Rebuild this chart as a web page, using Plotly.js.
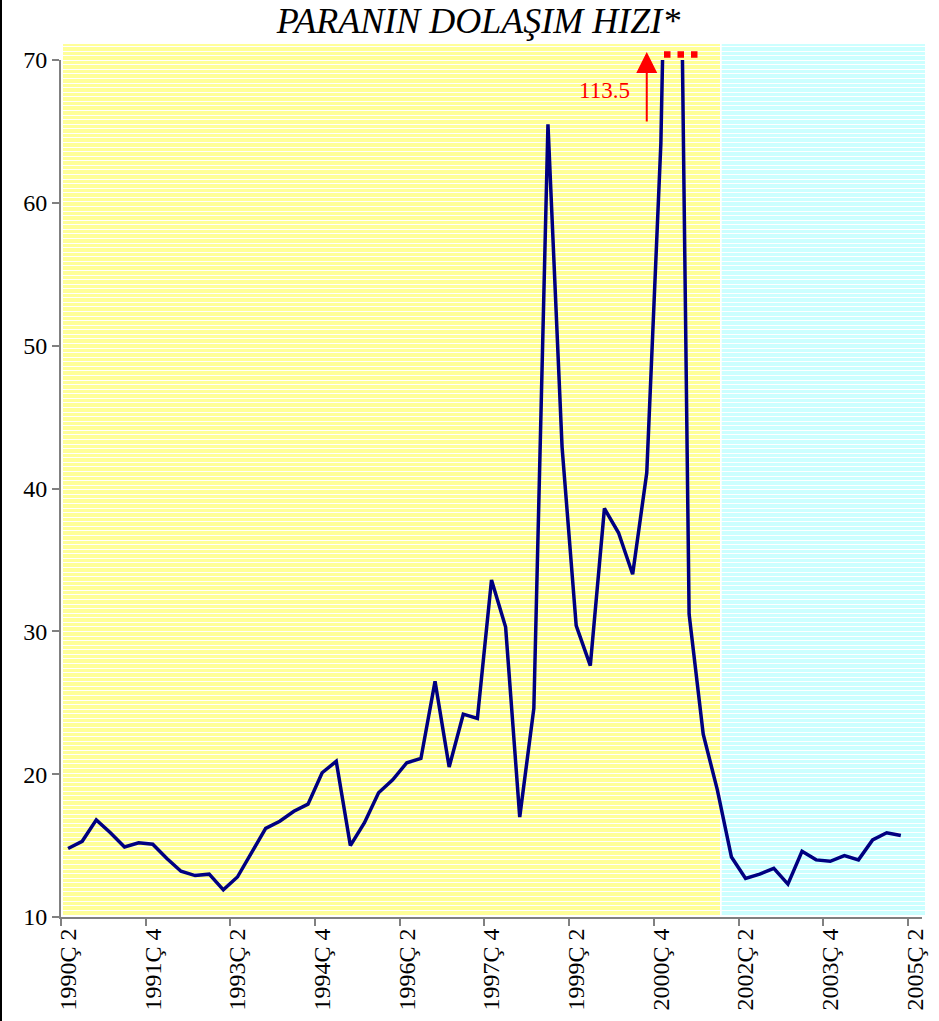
<!DOCTYPE html>
<html>
<head>
<meta charset="utf-8">
<script src="https://cdn.plot.ly/plotly-3.0.1.min.js"></script>
<style>
html,body{margin:0;padding:0;background:#fff;}
#chart{width:939px;height:1021px;}
</style>
</head>
<body>
<div id="chart"></div>
<script>
// ---- data ----
const quarters = [
  "1990Ç 2","1990Ç 3","1990Ç 4",
  "1991Ç 1","1991Ç 2","1991Ç 3","1991Ç 4",
  "1992Ç 1","1992Ç 2","1992Ç 3","1992Ç 4",
  "1993Ç 1","1993Ç 2","1993Ç 3","1993Ç 4",
  "1994Ç 1","1994Ç 2","1994Ç 3","1994Ç 4",
  "1995Ç 1","1995Ç 2","1995Ç 3","1995Ç 4",
  "1996Ç 1","1996Ç 2","1996Ç 3","1996Ç 4",
  "1997Ç 1","1997Ç 2","1997Ç 3","1997Ç 4",
  "1998Ç 1","1998Ç 2","1998Ç 3","1998Ç 4",
  "1999Ç 1","1999Ç 2","1999Ç 3","1999Ç 4",
  "2000Ç 1","2000Ç 2","2000Ç 3","2000Ç 4",
  "2001Ç 1","2001Ç 2","2001Ç 3","2001Ç 4",
  "2002Ç 1","2002Ç 2","2002Ç 3","2002Ç 4",
  "2003Ç 1","2003Ç 2","2003Ç 3","2003Ç 4",
  "2004Ç 1","2004Ç 2","2004Ç 3","2004Ç 4",
  "2005Ç 1","2005Ç 2"
];
const velocity = [
  14.8, 15.3, 16.8,
  15.9, 14.9, 15.2, 15.1,
  14.1, 13.2, 12.9, 13.0,
  11.9, 12.8, 14.5, 16.2,
  16.7, 17.4, 17.9, 20.1,
  20.9, 15.0, 16.6, 18.7,
  19.6, 20.8, 21.1, 26.5,
  20.5, 24.2, 23.9, 33.6,
  30.3, 17.0, 24.6, 65.5,
  42.9, 30.4, 27.6, 38.6,
  36.9, 34.0, 41.1, 64.2,
  113.5, 31.2, 22.8, 18.9,
  14.2, 12.7, 13.0, 13.4,
  12.3, 14.6, 14.0, 13.9,
  14.3, 14.0, 15.4, 15.9,
  15.7, null
];
const titleText = "PARANIN DOLAŞIM HIZI*";
const peakLabel = "113.5";
const arrowIndex = 41;
const yTicks = [10, 20, 30, 40, 50, 60, 70];

// ---- geometry (pixels) ----
const W = 939, H = 1021;
const M = {l: 61, r: 17, t: 60, b: 104};
const PW = W - M.l - M.r, PH = H - M.t - M.b;
const px = x => (x - M.l) / PW;          // pixel x -> paper
const py = y => (H - M.b - y) / PH;      // pixel y -> paper

const SERIF = "'Liberation Serif', 'Times New Roman', serif";

const shapes = [];
// background panels
shapes.push({type:'rect', xref:'paper', yref:'paper', layer:'below',
  x0:px(63), x1:px(720), y0:py(915), y1:py(44), fillcolor:'#FFFF99', line:{width:0}});
shapes.push({type:'rect', xref:'paper', yref:'paper', layer:'below',
  x0:px(721.7), x1:px(925), y0:py(915), y1:py(44), fillcolor:'#CCFFFF', line:{width:0}});
// white stripes
for (let k = 0; ; k++) {
  const yy = Math.round(46 + k * 4.57) + 0.5;
  if (yy > 914) break;
  shapes.push({type:'line', xref:'paper', yref:'paper', layer:'below',
    x0:px(63), x1:px(925), y0:py(yy), y1:py(yy), line:{color:'#ffffff', width:1}});
}
// red dotted marker above the clipped peak
shapes.push({type:'line', xref:'paper', yref:'paper',
  x0:px(664), x1:px(698), y0:py(54.5), y1:py(54.5),
  line:{color:'#FF0000', width:6.5, dash:'6.5px,7px'}});
// left frame line
shapes.push({type:'line', xref:'paper', yref:'paper',
  x0:px(1), x1:px(1), y0:py(H), y1:py(0), line:{color:'#000000', width:2}});

const trace = {
  type:'scatter', mode:'lines',
  x: quarters, y: velocity,
  line:{color:'#000080', width:3.5},
  hoverinfo:'skip', showlegend:false
};

const layout = {
  width: W, height: H,
  margin: M,
  paper_bgcolor:'#ffffff',
  plot_bgcolor:'rgba(0,0,0,0)',
  showlegend:false,
  title:{
    text: titleText,
    font:{family:SERIF, size:36, color:'#000000', style:'italic'},
    xref:'paper', x: px(478.5), xanchor:'center',
    yref:'container', y: 1 - 20 / H, yanchor:'middle'
  },
  xaxis:{
    type:'category',
    categoryorder:'array', categoryarray: quarters,
    range:[-0.5, quarters.length - 0.5],
    tickmode:'linear', tick0:0, dtick:6,
    tickson:'boundaries',
    ticks:'outside', ticklen:7, tickwidth:2, tickcolor:'#808080',
    showline:true, linecolor:'#808080', linewidth:2,
    showgrid:false, zeroline:false,
    tickangle:-90,
    tickfont:{family:SERIF, size:24, color:'#000000'},
    fixedrange:true
  },
  yaxis:{
    range:[10, 70],
    tickmode:'array', tickvals: yTicks, ticktext: yTicks.map(String),
    ticks:'outside', ticklen:7, tickwidth:2, tickcolor:'#808080',
    showline:true, linecolor:'#808080', linewidth:2,
    showgrid:false, zeroline:false,
    tickfont:{family:SERIF, size:24, color:'#000000'},
    fixedrange:true
  },
  shapes: shapes,
  annotations:[
    {xref:'x', yref:'paper', x: arrowIndex, y: py(52),
     ax:0, ay:71, axref:'pixel', ayref:'pixel',
     text:'', showarrow:true, arrowhead:2, arrowsize:2.1, arrowwidth:2,
     arrowcolor:'#FF0000'},
    {xref:'paper', yref:'paper', x: px(604.5), y: py(90.5),
     xanchor:'center', yanchor:'middle', showarrow:false,
     text: peakLabel, font:{family:SERIF, size:23, color:'#FF0000'}}
  ]
};

Plotly.newPlot('chart', [trace], layout, {displayModeBar:false, staticPlot:true});
</script>
</body>
</html>
